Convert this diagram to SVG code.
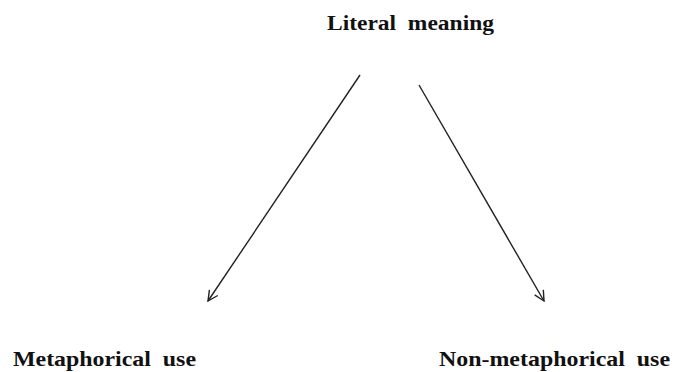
<svg xmlns="http://www.w3.org/2000/svg" width="675" height="372" viewBox="0 0 675 372">
<style>
.t{font-family:"Liberation Serif","Times New Roman",serif;font-weight:bold;fill:#111;white-space:pre;}
.top{font-size:20px;}
.bot{font-size:22px;}
.c{stroke:#222;stroke-width:1.4;fill:none;}
</style>
<defs>
<marker id="ah" viewBox="0 0 12 12" refX="11" refY="6" markerWidth="12" markerHeight="12" markerUnits="userSpaceOnUse" orient="auto">
<path d="M1,1 L11,6 L1,11" fill="none" stroke="#222" stroke-width="1.4"/>
</marker>
</defs>
<rect width="675" height="372" fill="#fff"/>
<g id="literal"><text class="t top" xml:space="preserve" x="327" y="30" textLength="167" lengthAdjust="spacingAndGlyphs">Literal  meaning</text></g>
<g id="metaphorical"><text class="t bot" xml:space="preserve" x="13" y="366" textLength="183" lengthAdjust="spacingAndGlyphs">Metaphorical  use</text></g>
<g id="nonmetaphorical"><text class="t bot" xml:space="preserve" x="439" y="366" textLength="231" lengthAdjust="spacingAndGlyphs">Non-metaphorical  use</text></g>
<g id="connectors">
<line class="c" x1="360" y1="75" x2="208" y2="301" marker-end="url(#ah)"/>
<line class="c" x1="419" y1="85" x2="544" y2="301" marker-end="url(#ah)"/>
</g>
</svg>
